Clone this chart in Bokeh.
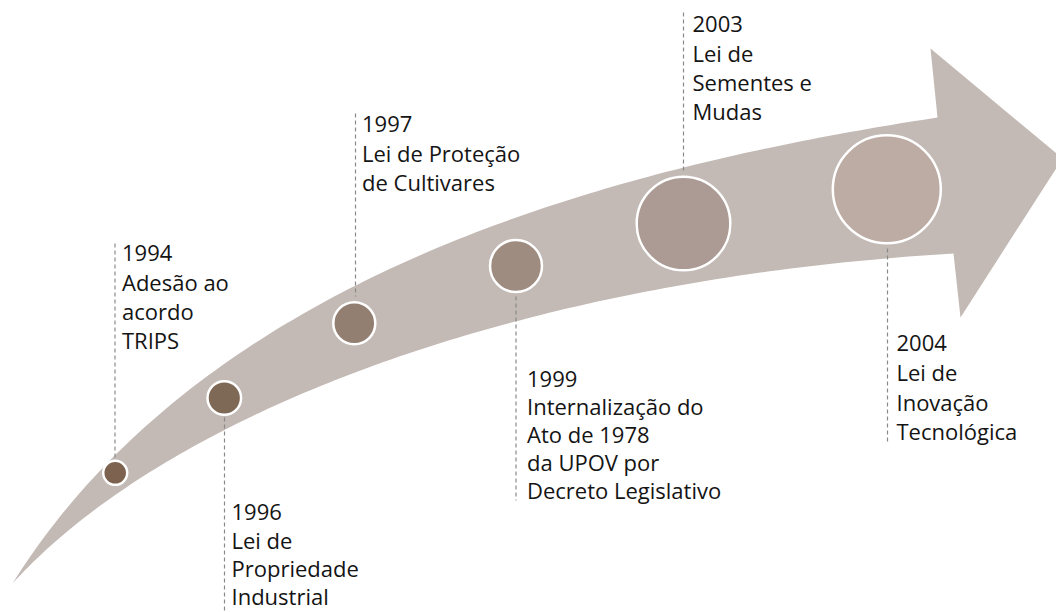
import numpy as np
from bokeh.plotting import figure
from bokeh.models import Range1d
from bokeh.core.properties import value
from bokeh.embed import file_html
from bokeh.resources import INLINE

# ---- data ----
years = ["1994", "1996", "1997", "1999", "2003", "2004"]
descriptions = [
    ["Adesão ao", "acordo", "TRIPS"],
    ["Lei de", "Propriedade", "Industrial"],
    ["Lei de Proteção", "de Cultivares"],
    ["Internalização do", "Ato de 1978", "da UPOV por", "Decreto Legislativo"],
    ["Lei de", "Sementes e", "Mudas"],
    ["Lei de", "Inovação", "Tecnológica"],
]

# ---- layout (reference pixel coordinates, y downward) ----
circle_x = [114.7, 223.8, 353.8, 515.5, 683.0, 886.3]
circle_y = [472.3, 397.5, 322.8, 265.5, 223.0, 188.7]
circle_r = [12.0, 16.8, 21.0, 26.0, 46.8, 54.0]
circle_colors = ["#7c624f", "#7e6856", "#937e72", "#9e8c81", "#ab9b94", "#bcaca4"]

label_x = [121.5, 231.0, 361.5, 526.5, 692.0, 896.0]
label_y0 = [252.0, 511.0, 123.0, 378.0, 23.5, 342.0]
line_steps = [29.0, 28.3, 29.0, 27.8, 29.0, 29.5]

dash_x = [114.5, 224.0, 355.0, 515.5, 683.0, 887.0]
dash_y0 = [243.0, 417.0, 113.0, 296.0, 12.0, 248.0]
dash_y1 = [457.0, 610.0, 296.0, 500.0, 172.0, 444.0]

ARROW = "#c3b9b5"


def bezier(p0, p1, p2, p3, n=120):
    t = np.linspace(0, 1, n)[:, None]
    pts = ((1 - t) ** 3) * np.array(p0) + 3 * ((1 - t) ** 2) * t * np.array(p1) \
        + 3 * (1 - t) * t ** 2 * np.array(p2) + t ** 3 * np.array(p3)
    return pts[:, 0], pts[:, 1]


# arrow outline
tip = (12.0, 583.0)
up_end = (937.0, 117.0)
lo_end = (953.0, 253.0)
ux, uy = bezier(tip, (212.0, 263.0), (637.0, 163.2), up_end)
lx, ly = bezier(tip, (162.0, 418.0), (503.0, 280.0), lo_end)
head_x = [930.0, 1062.0, 960.0]
head_y = [48.0, 158.0, 317.0]
arrow_x = list(ux) + head_x + list(lx[::-1])
arrow_y = list(uy) + head_y + list(ly[::-1])

p = figure(width=1056, height=612, x_range=Range1d(0, 1056), y_range=Range1d(612, 0),
           output_backend="svg", toolbar_location=None, min_border=0)
p.axis.visible = False
p.grid.visible = False
p.outline_line_color = None
p.background_fill_color = "white"
p.border_fill_color = "white"

p.patch(arrow_x, arrow_y, fill_color=ARROW, line_color=None)

p.segment(x0=dash_x, y0=dash_y0, x1=dash_x, y1=dash_y1, line_color="#8a8a8a",
          line_width=1.2, line_dash="4 3")

p.circle(x=circle_x, y=circle_y, radius=circle_r, fill_color=circle_colors,
         line_color="white", line_width=2.5)

tx, ty, tt = [], [], []
for i, yr in enumerate(years):
    lines = [yr] + descriptions[i]
    for j, s in enumerate(lines):
        tx.append(label_x[i])
        ty.append(label_y0[i] + j * line_steps[i])
        tt.append(s)

p.text(x=tx, y=ty, text=tt, text_font=value("Open Sans"), text_font_size="22px",
       text_baseline="alphabetic", text_align="left", text_color="#141414")

open("out.html", "w").write(file_html(p, INLINE))
